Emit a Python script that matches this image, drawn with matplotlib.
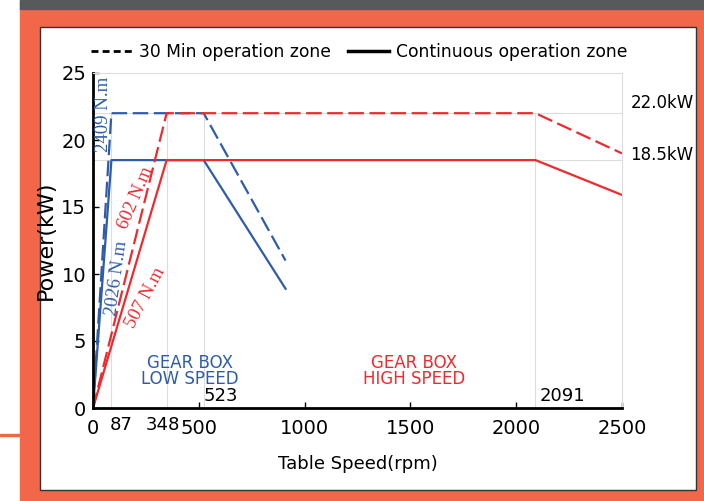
import matplotlib.pyplot as plt
from matplotlib.patches import Rectangle
from matplotlib.lines import Line2D

W, H = 704, 501

# power curves (rpm, kW)
speed_low = [0, 87, 523, 910]
power_low_30min = [0, 22.0, 22.0, 11.0]
power_low_cont = [0, 18.5, 18.5, 8.9]

speed_high = [0, 348, 2091, 2500]
power_high_30min = [0, 22.0, 22.0, 19.0]
power_high_cont = [0, 18.5, 18.5, 15.9]

key_speeds = [87, 348, 523, 2091]
key_powers = [18.5, 22.0]
torque_labels = ["2409 N.m", "2026 N.m", "602 N.m", "507 N.m"]

blue = "#2f5ca8"
red = "#ee2a2f"
orange = "#f2674a"


def fx(px):
    return px / W


def fy(py):
    return 1 - py / H


fig = plt.figure(figsize=(W / 100, H / 100), dpi=100, facecolor="white")

# page background
fig.patches.append(Rectangle((fx(20), 0), 1 - fx(20), 1, transform=fig.transFigure,
                             color=orange, zorder=-10))
fig.patches.append(Rectangle((fx(20), fy(9)), 1 - fx(20), 9 / H, transform=fig.transFigure,
                             color="#58595b", zorder=-9))
fig.patches.append(Rectangle((0, fy(436)), fx(20), 2 / H, transform=fig.transFigure,
                             color=orange, zorder=-9))
fig.patches.append(Rectangle((fx(40), fy(490)), fx(696) - fx(40), fy(27) - fy(490),
                             transform=fig.transFigure, facecolor="white",
                             edgecolor="#333333", lw=1, zorder=-8))

ax = fig.add_axes([fx(93), fy(408), fx(622) - fx(93), fy(73) - fy(408)])
ax.set_facecolor("none")

# light reference lines
for p in key_powers:
    ax.axhline(p, color="#dddddd", lw=0.8, zorder=0)
for s in key_speeds:
    ax.plot([s, s], [0, 22], color="#dddddd", lw=0.8, zorder=0)

ds = (7, 2.5)
ax.plot(speed_low, power_low_30min, color=blue, lw=1.6, dashes=ds)
ax.plot(speed_low, power_low_cont, color=blue, lw=1.6)
ax.plot(speed_high, power_high_30min, color=red, lw=1.6, dashes=ds)
ax.plot(speed_high, power_high_cont, color=red, lw=1.6)

ax.set_xlim(0, 2500)
ax.set_ylim(0, 25)
ax.set_xticks([0, 500, 1000, 1500, 2000, 2500])
ax.set_yticks([0, 5, 10, 15, 20, 25])
ax.tick_params(direction="in", length=4, width=1, labelsize=14, pad=8)
ax.tick_params(axis="y", pad=5)
for side in ["top", "right"]:
    ax.spines[side].set_color("#dddddd")
    ax.spines[side].set_linewidth(0.8)
for side in ["left", "bottom"]:
    ax.spines[side].set_linewidth(2)

# extra speed labels
ax.annotate("87", xy=(87, 0), xycoords=("data", "axes fraction"), xytext=(7, -6),
            textcoords="offset points", ha="center", va="top", fontsize=13)
ax.annotate("348", xy=(348, 0), xycoords=("data", "axes fraction"), xytext=(-3, -6),
            textcoords="offset points", ha="center", va="top", fontsize=13)
ax.text(523, 0.9, "523", ha="left", va="center", fontsize=13)
ax.text(2110, 0.9, "2091", ha="left", va="center", fontsize=13)

# right-side power labels
ax.annotate("22.0kW", xy=(1, 22.0), xycoords=("axes fraction", "data"), xytext=(6, 7),
            textcoords="offset points", ha="left", va="center", fontsize=12)
ax.annotate("18.5kW", xy=(1, 18.5), xycoords=("axes fraction", "data"), xytext=(6, 4),
            textcoords="offset points", ha="left", va="center", fontsize=12)

# torque labels
serif = "Liberation Serif"
ax.text(50, 21.9, torque_labels[0], color=blue, rotation=90, ha="center", va="center",
        fontsize=13.5, family=serif)
ax.text(113, 9.7, torque_labels[1], color=blue, rotation=82, ha="center", va="center",
        fontsize=13.5, family=serif)
ax.text(203, 15.7, torque_labels[2], color=red, rotation=67, ha="center", va="center",
        fontsize=13.5, family=serif)
ax.text(246, 8.2, torque_labels[3], color=red, rotation=62, ha="center", va="center",
        fontsize=13.5, family=serif)

ax.text(458, 2.75, "GEAR BOX\nLOW SPEED", color=blue, ha="center", va="center",
        fontsize=12, linespacing=0.9)
ax.text(1517, 2.75, "GEAR BOX\nHIGH SPEED", color=red, ha="center", va="center",
        fontsize=12, linespacing=0.9)

ax.set_xlabel("Table Speed(rpm)", fontsize=13, labelpad=12)
ax.set_ylabel("Power(kW)", fontsize=16, labelpad=4)

handles = [Line2D([], [], color="black", lw=2, dashes=(2.5, 1.5)),
           Line2D([], [], color="black", lw=2.5)]
fig.legend(handles, ["30 Min operation zone", "Continuous operation zone"], ncol=2,
           loc="center", bbox_to_anchor=(fx(359), fy(52)), frameon=False, fontsize=12.3,
           handlelength=2.4, handletextpad=0.4, columnspacing=1.0)

fig.savefig("out.png", dpi=100, facecolor=fig.get_facecolor())
